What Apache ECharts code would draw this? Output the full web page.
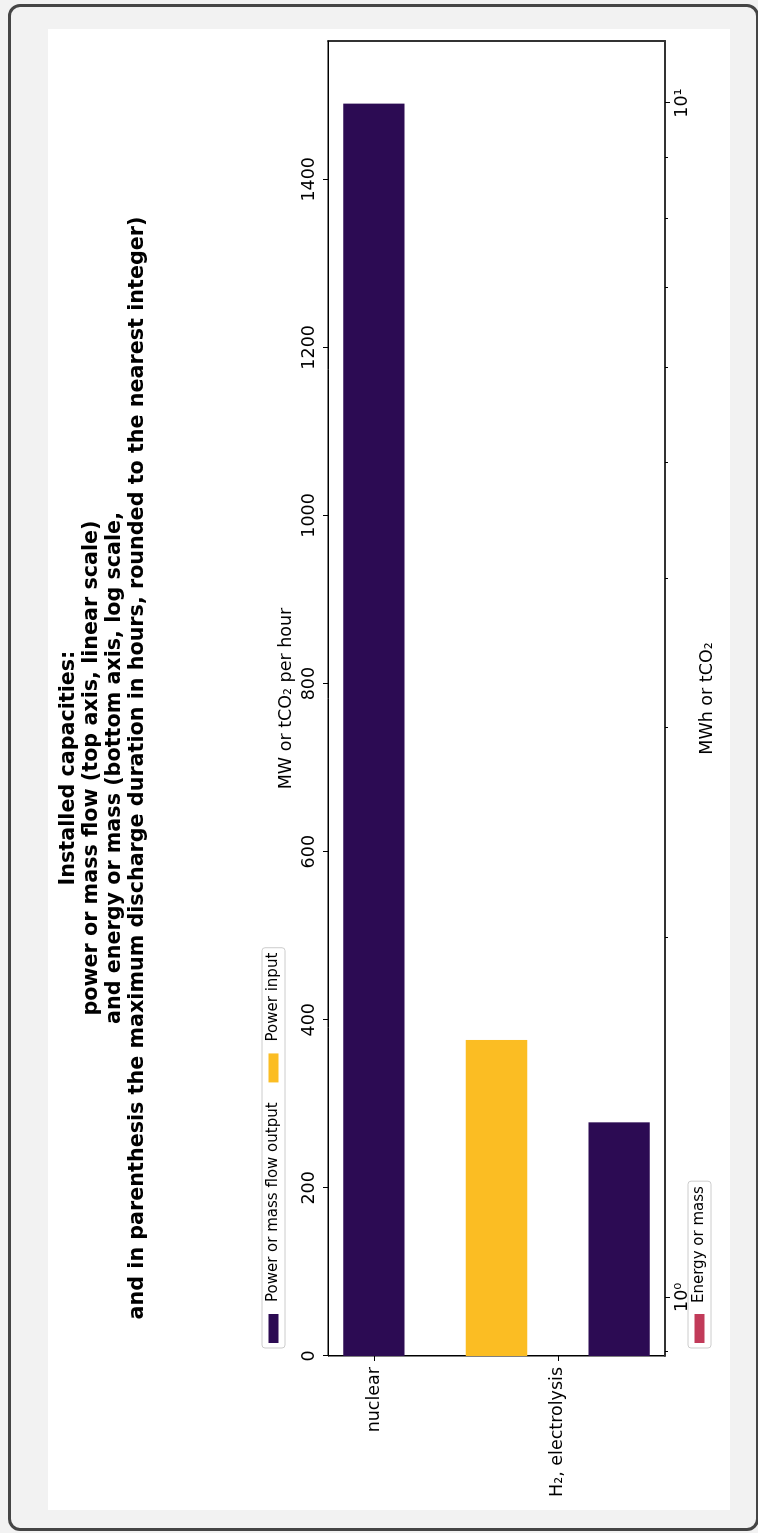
<!DOCTYPE html>
<html>
<head>
<meta charset="utf-8">
<script src="https://cdn.jsdelivr.net/npm/echarts@6/dist/echarts.min.js"></script>
<style>
  html, body { margin: 0; padding: 0; }
  body { width: 758px; height: 1533px; background: #f2f2f2; position: relative; overflow: hidden; }
  #frame { position: absolute; left: 8px; top: 4px; width: 751px; height: 1527px; border: 3px solid #454545; border-radius: 12px; box-sizing: border-box; }
  #panel { position: absolute; left: 48px; top: 29px; width: 682px; height: 1481px; background: #ffffff; }
  #chart { position: absolute; left: 0; top: 0; width: 1533px; height: 758px; transform-origin: 0 0; transform: translateY(1533px) rotate(-90deg); }
</style>
</head>
<body>
<div id="frame"></div>
<div id="panel"></div>
<div id="chart"></div>
<script>
// ---- data ----
const categories = ['nuclear', 'H\u2082, electrolysis'];
// null = technology has no such capacity
const powerInput = [null, 376];          // MW
const energyOrMass = [null, 0];          // MWh or tCO2 (log axis)
const powerOutput = [1490, 278];         // MW or tCO2 per hour
const powerTicks = [0, 200, 400, 600, 800, 1000, 1200, 1400];
const logMajorTicks = [1, 10];
const logMinorTicks = [0.9, 2, 3, 4, 5, 6, 7, 8, 9];
const logRange = [0.893, 11.27];
const titleLines = [
  'Installed capacities:',
  'power or mass flow (top axis, linear scale)',
  'and energy or mass (bottom axis, log scale,',
  'and in parenthesis the maximum discharge duration in hours, rounded to the nearest integer)'
];
const colors = { 'Power input': '#fbbd23', 'Energy or mass': '#c13a59', 'Power or mass flow output': '#2c0b53' };

// ---- layout of grouped bars (category units) ----
const barW = 1 / 3;
const allSeries = [powerInput, energyOrMass, powerOutput];
const barPos = allSeries.map(() => []);
categories.forEach((c, i) => {
  const present = allSeries.map((s, k) => k).filter(k => allSeries[k][i] !== null);
  present.forEach((k, j) => { barPos[k][i] = i + (j - (present.length - 1) / 2) * barW; });
});
let lo = Infinity, hi = -Infinity;
barPos.forEach(arr => arr.forEach(p => { if (p !== undefined) { lo = Math.min(lo, p - barW / 2); hi = Math.max(hi, p + barW / 2); } }));
const m = 0.05 * (hi - lo);
const catMin = lo - m, catMax = hi + m;
const powerMax = 1.05 * Math.max(...powerInput.filter(v => v !== null), ...powerOutput.filter(v => v !== null));

function seriesData(k) {
  const out = [];
  allSeries[k].forEach((v, i) => { if (v !== null && v > 0) out.push([v, barPos[k][i]]); });
  return out;
}
function makeRender(fromVal) {
  return function (params, api) {
    const val = api.value(0), pos = api.value(1);
    const p0 = api.coord([fromVal, pos]);
    const p1 = api.coord([val, pos]);
    const h = api.size([0, barW])[1];
    return { type: 'rect', shape: { x: p0[0], y: p0[1] - h / 2, width: p1[0] - p0[0], height: h }, style: { fill: api.visual('color') } };
  };
}
const FONT = 'DejaVu Sans';
const TICK_FS = 17.5;
const sup = { 0: '\u2070', 1: '\u00b9', 2: '\u00b2', 3: '\u00b3' };
const hidden = { show: false };

const chart = echarts.init(document.getElementById('chart'), null, { renderer: 'canvas' });
chart.setOption({
  animation: false,
  textStyle: { fontFamily: FONT, color: '#000' },
  grid: { left: 177, right: 41, top: 328, bottom: 93, show: true, borderColor: '#000', borderWidth: 1, backgroundColor: 'transparent' },
  graphic: [{
    type: 'text', x: 765, y: 57,
    style: { text: titleLines.join('\n'), fontFamily: FONT, fontSize: 20.7, fontWeight: 'bold', fill: '#000', align: 'center', verticalAlign: 'top', lineHeight: 23 }
  }],
  legend: [
    {
      data: ['Power or mass flow output', 'Power input'], left: 185, top: 262, orient: 'horizontal',
      icon: 'rect', itemWidth: 29, itemHeight: 10, itemGap: 20, padding: [4, 5],
      borderColor: '#cccccc', borderWidth: 1, borderRadius: 3, backgroundColor: 'rgba(255,255,255,0.8)',
      textStyle: { fontFamily: FONT, fontSize: 15, color: '#000', padding: [0, 0, 0, 7] }
    },
    {
      data: ['Energy or mass'], left: 185, top: 688, orient: 'horizontal',
      icon: 'rect', itemWidth: 29, itemHeight: 10, padding: [4, 5],
      borderColor: '#cccccc', borderWidth: 1, borderRadius: 3, backgroundColor: 'rgba(255,255,255,0.8)',
      textStyle: { fontFamily: FONT, fontSize: 15, color: '#000', padding: [0, 0, 0, 6] }
    }
  ],
  xAxis: [
    {
      type: 'value', position: 'top', min: 0, max: powerMax,
      name: 'MW or tCO\u2082 per hour', nameLocation: 'middle', nameGap: 33,
      nameTextStyle: { fontFamily: FONT, fontSize: TICK_FS, color: '#000' },
      axisLine: { show: true, onZero: false, lineStyle: { color: '#000', width: 1 } },
      axisTick: { show: true, customValues: powerTicks, length: 5, lineStyle: { color: '#000' } },
      axisLabel: { customValues: powerTicks, margin: 10, fontFamily: FONT, fontSize: TICK_FS, color: '#000', formatter: v => String(v) },
      splitLine: hidden
    },
    {
      type: 'log', logBase: 10, position: 'bottom', min: logRange[0], max: logRange[1],
      name: 'MWh or tCO\u2082', nameLocation: 'middle', nameGap: 33,
      nameTextStyle: { fontFamily: FONT, fontSize: TICK_FS, color: '#000' },
      axisLine: { show: true, onZero: false, lineStyle: { color: '#333', width: 2 } },
      axisTick: hidden,
      axisLabel: { showMinLabel: false, showMaxLabel: false, margin: 8, fontFamily: FONT, fontSize: TICK_FS, color: '#000',
        formatter: v => '10' + sup[Math.round(Math.log10(v))] },
      splitLine: hidden
    },
    {
      type: 'value', position: 'bottom', min: Math.log10(logRange[0]), max: Math.log10(logRange[1]),
      axisLine: { show: false, onZero: false }, axisLabel: hidden, splitLine: hidden,
      axisTick: { show: true, customValues: logMajorTicks.map(Math.log10), length: 5, lineStyle: { color: '#000' } }
    },
    {
      type: 'value', position: 'bottom', min: Math.log10(logRange[0]), max: Math.log10(logRange[1]),
      axisLine: { show: false, onZero: false }, axisLabel: hidden, splitLine: hidden,
      axisTick: { show: true, customValues: logMinorTicks.map(Math.log10), length: 3, lineStyle: { color: '#000' } }
    }
  ],
  yAxis: [
    {
      type: 'value', inverse: true, min: catMin, max: catMax, position: 'left',
      axisLine: { show: true, onZero: false, lineStyle: { color: '#000', width: 1 } },
      axisTick: { show: true, customValues: categories.map((c, i) => i), length: 5, lineStyle: { color: '#000' } },
      axisLabel: { customValues: categories.map((c, i) => i), margin: 11, fontFamily: FONT, fontSize: TICK_FS, color: '#000',
        formatter: v => categories[Math.round(v)] },
      splitLine: hidden
    },
    {
      type: 'value', inverse: true, min: catMin, max: catMax, position: 'right',
      axisLine: { show: true, onZero: false, lineStyle: { color: '#333', width: 2 } },
      axisTick: hidden, axisLabel: hidden, splitLine: hidden
    }
  ],
  series: [
    { type: 'custom', name: 'Power input', xAxisIndex: 0, yAxisIndex: 0, color: colors['Power input'],
      itemStyle: { color: colors['Power input'] }, encode: { x: 0, y: 1 }, renderItem: makeRender(0), data: seriesData(0) },
    { type: 'custom', name: 'Energy or mass', xAxisIndex: 1, yAxisIndex: 0, color: colors['Energy or mass'],
      itemStyle: { color: colors['Energy or mass'] }, encode: { x: 0, y: 1 }, renderItem: makeRender(logRange[0]), data: seriesData(1) },
    { type: 'custom', name: 'Power or mass flow output', xAxisIndex: 0, yAxisIndex: 0, color: colors['Power or mass flow output'],
      itemStyle: { color: colors['Power or mass flow output'] }, encode: { x: 0, y: 1 }, renderItem: makeRender(0), data: seriesData(2) }
  ]
});
</script>
</body>
</html>
